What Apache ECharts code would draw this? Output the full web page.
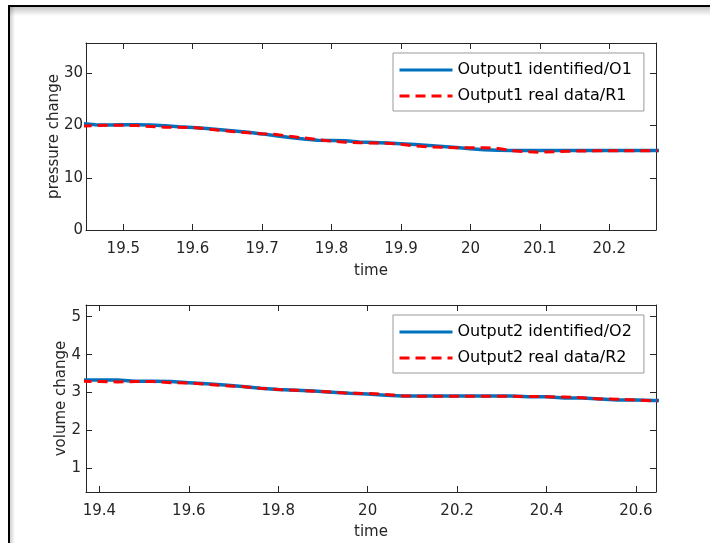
<!DOCTYPE html>
<html>
<head>
<meta charset="utf-8">
<script src="https://cdn.jsdelivr.net/npm/echarts@6/dist/echarts.min.js"></script>
<style>html,body{margin:0;padding:0;background:#fff;}#c{width:710px;height:543px;}</style>
</head>
<body>
<div id="c"></div>
<script>
// ---- data ----
var topTime = [19.44,19.46,19.48,19.50,19.52,19.54,19.56,19.58,19.60,19.62,19.64,19.66,19.68,19.70,19.72,19.74,19.76,19.78,19.80,19.82,19.84,19.86,19.88,19.90,19.92,19.94,19.96,19.98,20.00,20.02,20.04,20.06,20.08,20.10,20.12,20.14,20.16,20.18,20.20,20.22,20.24,20.26,20.28];
var topIdentified = [20.4,20.15,20.1,20.15,20.15,20.1,19.95,19.75,19.6,19.45,19.2,18.95,18.7,18.4,18.05,17.7,17.4,17.2,17.15,17.1,16.85,16.75,16.65,16.5,16.35,16.2,16.0,15.8,15.55,15.35,15.25,15.2,15.2,15.2,15.2,15.2,15.2,15.2,15.2,15.2,15.2,15.2,15.2];
var topReal = [19.9,20.0,20.05,20.05,20.0,19.8,19.68,19.67,19.62,19.37,19.08,18.8,18.6,18.42,18.3,17.94,17.62,17.3,17.0,16.8,16.72,16.66,16.6,16.4,16.1,15.9,15.82,15.76,15.76,15.76,15.6,15.2,15.0,14.88,15.0,15.08,15.12,15.15,15.15,15.15,15.15,15.15,15.15];
var bottomTime = [19.36,19.40,19.44,19.48,19.52,19.56,19.60,19.64,19.68,19.72,19.76,19.80,19.84,19.88,19.92,19.96,20.00,20.04,20.08,20.12,20.16,20.20,20.24,20.28,20.32,20.36,20.40,20.44,20.48,20.52,20.56,20.60,20.64,20.68];
var bottomIdentified = [3.33,3.33,3.33,3.30,3.30,3.29,3.26,3.23,3.20,3.16,3.11,3.08,3.06,3.04,3.01,2.98,2.96,2.93,2.91,2.91,2.91,2.91,2.91,2.91,2.91,2.89,2.89,2.855,2.855,2.83,2.80,2.80,2.79,2.78];
var bottomReal = [3.30,3.29,3.28,3.29,3.29,3.26,3.25,3.22,3.18,3.16,3.11,3.08,3.06,3.035,3.01,2.98,2.975,2.95,2.91,2.90,2.90,2.90,2.90,2.90,2.90,2.895,2.89,2.88,2.86,2.83,2.825,2.80,2.78,2.78];
var topXTicks = [19.5,19.6,19.7,19.8,19.9,20,20.1,20.2];
var topYTicks = [0,10,20,30];
var bottomXTicks = [19.4,19.6,19.8,20,20.2,20.4,20.6];
var bottomYTicks = [1,2,3,4,5];
var topNames = ['Output1 identified/O1','Output1 real data/R1'];
var bottomNames = ['Output2 identified/O2','Output2 real data/R2'];
var topXRange = [19.4463, 20.2673], topYRange = [0, 35.8];
var bottomXRange = [19.370, 20.645], bottomYRange = [0.375, 5.31];

function pairs(t, v){ return t.map(function(x,i){ return [x, v[i]]; }); }

var FONT = 'DejaVu Sans';
var AX = '#262626';

function axis(kind, grid, pos, range, ticks, showLabel, name, nameGap, labelMargin){
  var a = {
    type: 'value', gridIndex: grid, position: pos, min: range[0], max: range[1],
    axisLine: {show: true, onZero: false, lineStyle: {color: AX, width: 1}},
    axisTick: {show: true, inside: true, length: 6, customValues: ticks, lineStyle: {color: AX, width: 1}},
    axisLabel: {show: showLabel, customValues: ticks, color: AX, fontFamily: FONT, fontSize: 15, margin: labelMargin,
      formatter: function(v){ return String(Math.round(v*100)/100); }},
    splitLine: {show: false}
  };
  if (name) {
    a.name = name; a.nameLocation = 'middle'; a.nameGap = nameGap; a.nameMoveOverlap = false;
    a.nameTextStyle = {color: AX, fontFamily: FONT, fontSize: 15};
  }
  return a;
}

function legend(names, top){
  return {data: names, orient: 'vertical', left: 393, top: top, padding: [7, 12, 5, 5], itemWidth: 53, itemHeight: 14, itemGap: 6,
    backgroundColor: '#fff', borderColor: '#9a9a9a', borderWidth: 1,
    itemStyle: {color: 'rgba(0,0,0,0)', borderWidth: 0, opacity: 0},
    lineStyle: {width: 3},
    textStyle: {color: '#000', fontFamily: FONT, fontSize: 16, lineHeight: 20}};
}

var option = {
  animation: false,
  backgroundColor: '#fff',
  grid: [
    {left: 86, top: 43, width: 570, height: 187},
    {left: 86, top: 305, width: 570, height: 187}
  ],
  xAxis: [
    axis('x', 0, 'bottom', topXRange, topXTicks, true, 'time', 34, 12),
    axis('x', 0, 'top', topXRange, topXTicks, false),
    axis('x', 1, 'bottom', bottomXRange, bottomXTicks, true, 'time', 33, 12),
    axis('x', 1, 'top', bottomXRange, bottomXTicks, false)
  ],
  yAxis: [
    axis('y', 0, 'left', topYRange, topYTicks, true, 'pressure change', 24, 3),
    axis('y', 0, 'right', topYRange, topYTicks, false),
    axis('y', 1, 'left', bottomYRange, bottomYTicks, true, 'volume change', 17, 5),
    axis('y', 1, 'right', bottomYRange, bottomYTicks, false)
  ],
  legend: [legend(topNames, 53), legend(bottomNames, 315)],
  series: [
    {name: topNames[0], type: 'line', xAxisIndex: 0, yAxisIndex: 0, data: pairs(topTime, topIdentified),
     symbol: 'none', showSymbol: false, lineStyle: {color: '#0072BD', width: 3.5}, itemStyle: {color: '#0072BD'}, z: 2},
    {name: topNames[1], type: 'line', xAxisIndex: 0, yAxisIndex: 0, data: pairs(topTime, topReal),
     symbol: 'none', showSymbol: false, lineStyle: {color: '#FF0000', width: 3, type: [10, 6]}, itemStyle: {color: '#FF0000'}, z: 3},
    {name: bottomNames[0], type: 'line', xAxisIndex: 2, yAxisIndex: 2, data: pairs(bottomTime, bottomIdentified),
     symbol: 'none', showSymbol: false, lineStyle: {color: '#0072BD', width: 3.5}, itemStyle: {color: '#0072BD'}, z: 2},
    {name: bottomNames[1], type: 'line', xAxisIndex: 2, yAxisIndex: 2, data: pairs(bottomTime, bottomReal),
     symbol: 'none', showSymbol: false, lineStyle: {color: '#FF0000', width: 3, type: [10, 6]}, itemStyle: {color: '#FF0000'}, z: 3}
  ],
  graphic: [
    {type: 'rect', shape: {x: 10, y: 7, width: 700, height: 9}, silent: true,
     style: {fill: new echarts.graphic.LinearGradient(0, 0, 0, 1, [{offset: 0, color: 'rgba(0,0,0,0.22)'}, {offset: 1, color: 'rgba(0,0,0,0)'}])}},
    {type: 'rect', shape: {x: 10, y: 7, width: 5, height: 536}, silent: true,
     style: {fill: new echarts.graphic.LinearGradient(0, 0, 1, 0, [{offset: 0, color: 'rgba(0,0,0,0.18)'}, {offset: 1, color: 'rgba(0,0,0,0)'}])}},
    {type: 'line', shape: {x1: 8, y1: 6, x2: 710, y2: 6}, silent: true, style: {stroke: '#000', lineWidth: 2}},
    {type: 'line', shape: {x1: 9, y1: 5, x2: 9, y2: 543}, silent: true, style: {stroke: '#000', lineWidth: 2}}
  ]
};
var chart = echarts.init(document.getElementById('c'), null, {renderer: 'canvas'});
chart.setOption(option);
</script>
</body>
</html>
